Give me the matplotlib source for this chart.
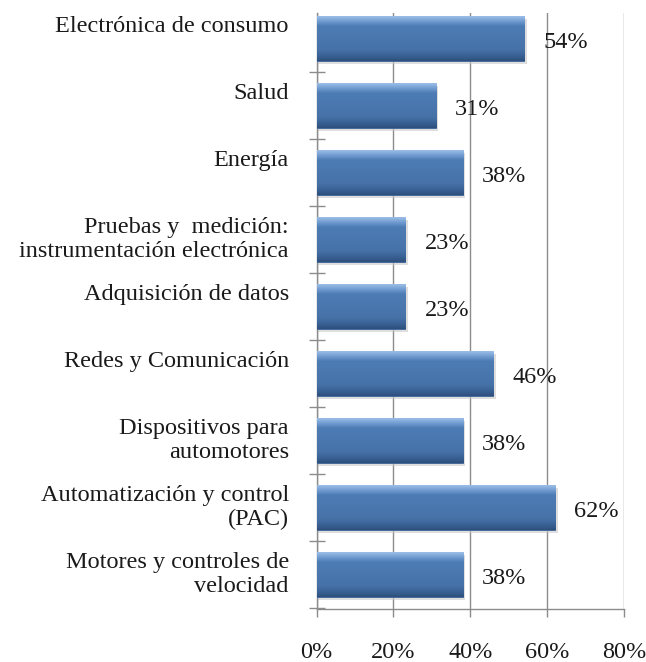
#!/usr/bin/env python3
"""Horizontal bar chart: sectores de aplicación (porcentaje)."""
import numpy as np
import matplotlib
matplotlib.use("Agg")
import matplotlib.pyplot as plt
from matplotlib.colors import LinearSegmentedColormap
from matplotlib.transforms import ScaledTranslation

categories = [
    "Electrónica de consumo",
    "Salud",
    "Energía",
    "Pruebas y  medición:\ninstrumentación electrónica",
    "Adquisición de datos",
    "Redes y Comunicación",
    "Dispositivos para\nautomotores",
    "Automatización y control\n(PAC)",
    "Motores y controles de\nvelocidad",
]
values = [54, 31, 38, 23, 23, 46, 38, 62, 38]
xticks = [0, 20, 40, 60, 80]
xtick_labels = ["0%", "20%", "40%", "60%", "80%"]

plt.rcParams["font.family"] = ["Liberation Serif", "DejaVu Serif"]
TXT = "#1a1a1a"
GRID = "#8c8c8c"
FS = 17.5

fig = plt.figure(figsize=(6.46, 6.62), dpi=100)
ax = fig.add_axes([0.490, 0.080, 0.476, 0.900])

y = np.arange(len(categories))
h = 0.67

# soft shadow
ax.barh(y + 0.04, np.array(values) + 0.4, height=h, left=0.3,
        color="#c8c8c8", alpha=0.6, zorder=2)
bars = ax.barh(y, values, height=h, color="#4a78ae", edgecolor="#3a6296",
               linewidth=0.6, zorder=3)

# bevel-like vertical gradient inside each bar
cmap = LinearSegmentedColormap.from_list(
    "bevel",
    [(0.0, "#9cbfe8"), (0.12, "#6f9ad0"), (0.22, "#4d7cb4"),
     (0.75, "#4672a8"), (0.88, "#3a6296"), (1.0, "#2e4f7c")],
)
grad = np.linspace(0, 1, 256).reshape(-1, 1)
for b, v, yi in zip(bars, values, y):
    im = ax.imshow(grad, cmap=cmap, aspect="auto", origin="upper",
                   extent=(0, v, yi + h / 2, yi - h / 2), zorder=4)
    im.set_clip_path(b)

# value labels
for v, yi in zip(values, y):
    ax.annotate(f"{v}%", (v, yi), xytext=(14, -2.5), textcoords="offset points",
                ha="left", va="center", fontsize=FS, color=TXT, zorder=5)

ax.set_xticks(xticks)
ax.set_xticklabels(xtick_labels, fontsize=FS, color=TXT)
ax.tick_params(axis="x", direction="out", length=6, width=1, color=GRID, pad=18)

ax.set_yticks(y)
ax.set_yticklabels(categories, fontsize=FS, color=TXT)
ax.set_yticks(np.arange(len(categories) + 1) - 0.5, minor=True)
ax.tick_params(axis="y", which="major", length=0, pad=20)
ax.tick_params(axis="y", which="minor", direction="inout", length=12,
               width=1, color=GRID)
for lab, cat in zip(ax.get_yticklabels(), categories):
    dy = -3 if "\n" in cat else -10.5
    lab.set_transform(lab.get_transform() + ScaledTranslation(0, -dy / 72, fig.dpi_scale_trans))

# limits last: set_yticks would otherwise widen them
ax.set_xlim(0, 80)
ax.set_ylim(8.515, -0.38)

ax.grid(axis="x", color=GRID, linewidth=1, zorder=0)
ax.set_axisbelow(True)
for s in ("top", "right"):
    ax.spines[s].set_visible(False)
for s in ("left", "bottom"):
    ax.spines[s].set_color(GRID)
    ax.spines[s].set_linewidth(1)

fig.savefig("out.png", dpi=100, facecolor="white")
